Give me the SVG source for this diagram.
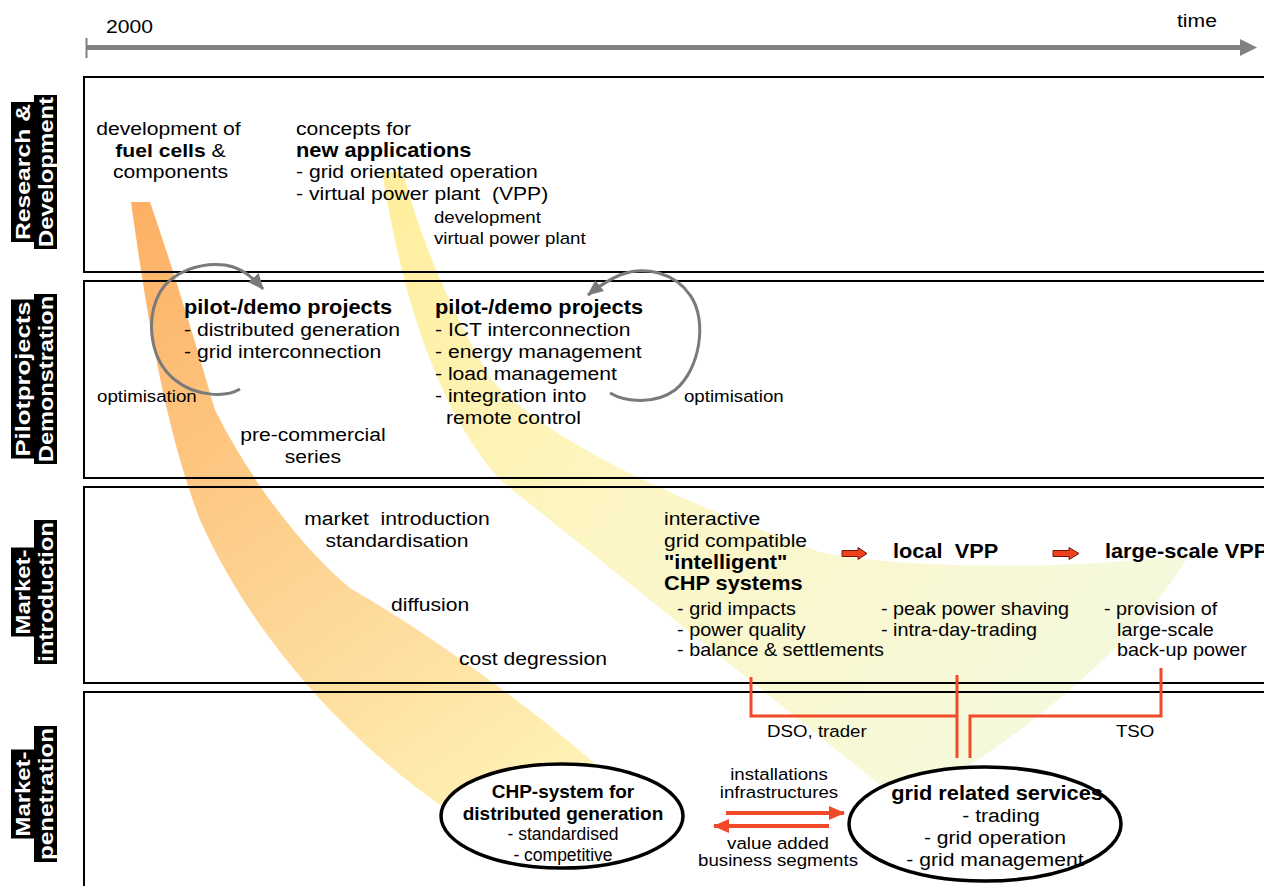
<svg xmlns="http://www.w3.org/2000/svg" width="1264" height="886" viewBox="0 0 1264 886">
<defs>
<style>
.t{font-family:"Liberation Sans",Arial,sans-serif;font-size:19.2px;fill:#000}
.t2{font-family:"Liberation Sans",Arial,sans-serif;font-size:18px;fill:#000}
.b{font-family:"Liberation Sans",Arial,sans-serif;font-size:19.8px;font-weight:bold;fill:#000}
.s{font-family:"Liberation Sans",Arial,sans-serif;font-size:17px;fill:#000}
.cb{font-family:"Liberation Sans",Arial,sans-serif;font-size:19px;font-weight:bold;fill:#000}
.cr{font-family:"Liberation Sans",Arial,sans-serif;font-size:17.5px;fill:#000}
.m{text-anchor:middle}
.lab{font-family:"Liberation Sans",Arial,sans-serif;font-size:20px;font-weight:bold;fill:#fff;text-anchor:middle}
.lane{fill:none;stroke:#000;stroke-width:2}
.loop{fill:none;stroke:#7a7a7a;stroke-width:3}
.red{fill:none;stroke:#f24a28;stroke-width:3}
.redA{fill:none;stroke:#f24a28;stroke-width:4}
.blk{fill:#f0401e;stroke:#6e1808;stroke-width:1}
.ell{fill:#fff;stroke:#000;stroke-width:3.5}
</style>
<linearGradient id="gOr" gradientUnits="userSpaceOnUse" x1="140" y1="200" x2="560" y2="780">
<stop offset="0" stop-color="#fdb064"/>
<stop offset="0.5" stop-color="#fdd08e"/>
<stop offset="1" stop-color="#fff2b6"/>
</linearGradient>
<linearGradient id="gYe" gradientUnits="userSpaceOnUse" x1="390" y1="170" x2="1050" y2="700">
<stop offset="0" stop-color="#ffee9c"/>
<stop offset="0.45" stop-color="#fdf6c4"/>
<stop offset="1" stop-color="#f5f9dc"/>
</linearGradient>
<marker id="gh" markerUnits="userSpaceOnUse" viewBox="0 0 16 14" markerWidth="16" markerHeight="14" refX="15" refY="7" orient="auto">
<path d="M0,0 L16,7 L0,14 z" fill="#7a7a7a"/>
</marker>
<marker id="rh" markerUnits="userSpaceOnUse" viewBox="0 0 16 14" markerWidth="16" markerHeight="14" refX="15" refY="7" orient="auto">
<path d="M0,0 L16,7 L0,14 z" fill="#f24a28"/>
</marker>
</defs>
<rect x="0" y="0" width="1264" height="886" fill="#fff"/>

<g id="bands">
<path d="M131,202 C145,300 162,420 200,520 C240,610 320,720 440,805 L600,768 C540,715 440,640 350,588 C310,555 255,490 215,410 C195,340 170,260 150,202 Z" fill="url(#gOr)"/>
<path d="M382,172 C400,280 430,400 500,480 C600,560 750,680 880,785 L965,768 C1040,720 1140,640 1190,553 C1100,570 900,570 820,552 C690,505 550,445 492,380 C455,320 420,240 403,172 Z" fill="url(#gYe)"/>
</g>

<g id="timeline">
<line x1="86" y1="47.5" x2="1243" y2="47.5" stroke="#808080" stroke-width="5"/>
<polygon points="1240,39 1257,47.5 1240,56" fill="#808080"/>
<line x1="86.5" y1="38" x2="86.5" y2="58" stroke="#808080" stroke-width="2"/>
<g transform="scale(1.1 1)">
<text class="t" x="96.4" y="33">2000</text>
<text class="t" x="1070" y="27">time</text>
</g>
</g>

<g id="lanes">
<rect class="lane" x="84" y="77" width="1200" height="195"/>
<rect class="lane" x="84" y="281" width="1200" height="197"/>
<rect class="lane" x="84" y="487" width="1200" height="196"/>
<rect class="lane" x="84" y="692" width="1200" height="220"/>
</g>

<g id="lane-labels">
<g id="lbl-rd" transform="translate(0,172) rotate(-90)">
<rect x="-70" y="11" width="140" height="23" fill="#000"/>
<rect x="-77" y="34" width="154" height="23" fill="#000"/>
<text class="lab" x="0" y="30" textLength="136" lengthAdjust="spacingAndGlyphs">Research &amp;</text>
<text class="lab" x="0" y="53" textLength="150" lengthAdjust="spacingAndGlyphs">Development</text>
</g>
<g id="lbl-pilot" transform="translate(0,379) rotate(-90)">
<rect x="-79.5" y="11" width="159" height="23" fill="#000"/>
<rect x="-85" y="34" width="170" height="23" fill="#000"/>
<text class="lab" x="0" y="30" textLength="155" lengthAdjust="spacingAndGlyphs">Pilotprojects</text>
<text class="lab" x="0" y="53" textLength="166" lengthAdjust="spacingAndGlyphs">Demonstration</text>
</g>
<g id="lbl-intro" transform="translate(0,592) rotate(-90)">
<rect x="-44.5" y="11" width="89" height="23" fill="#000"/>
<rect x="-72" y="34" width="144" height="23" fill="#000"/>
<text class="lab" x="0" y="30" textLength="85" lengthAdjust="spacingAndGlyphs">Market-</text>
<text class="lab" x="0" y="53" textLength="140" lengthAdjust="spacingAndGlyphs">introduction</text>
</g>
<g id="lbl-pen" transform="translate(0,794) rotate(-90)">
<rect x="-44.5" y="11" width="89" height="23" fill="#000"/>
<rect x="-68" y="34" width="136" height="23" fill="#000"/>
<text class="lab" x="0" y="30" textLength="85" lengthAdjust="spacingAndGlyphs">Market-</text>
<text class="lab" x="0" y="53" textLength="132" lengthAdjust="spacingAndGlyphs">penetration</text>
</g>
</g>

<g id="connectors">
<path class="loop" d="M240,389 C225,398 195,396 175,380 C150,360 145,320 160,292 C172,272 200,262 225,265 C240,267 252,276 263,289" marker-end="url(#gh)"/>
<path class="loop" d="M610,393 C625,402 655,405 675,390 C700,370 708,320 690,295 C675,273 645,265 620,275 C608,280 598,287 588,295" marker-end="url(#gh)"/>
<path class="red" d="M751,677 V716 H957"/>
<path class="red" d="M957,675 V758"/>
<path class="red" d="M970,758 V716 H1161 V668"/>
<line class="redA" x1="726" y1="813" x2="844" y2="813" marker-end="url(#rh)"/>
<line class="redA" x1="829" y1="826" x2="714" y2="826" marker-end="url(#rh)"/>
<polygon class="blk" points="842,550.5 858,550.5 858,547.5 867,553.5 858,559.5 858,556.5 842,556.5"/>
<polygon class="blk" points="1053,550.5 1069,550.5 1069,547.5 1079,553.5 1069,559.5 1069,556.5 1053,556.5"/>
</g>

<g id="n-rd-fuel"><g transform="scale(1.1 1)">
<text class="t m" x="153.2" y="135">development of</text>
<text class="t m" x="155" y="157"><tspan font-weight="bold">fuel cells</tspan> &amp;</text>
<text class="t m" x="155" y="178">components</text>
</g></g>

<g id="n-rd-concepts"><g transform="scale(1.1 1)">
<text class="t" x="269.1" y="135">concepts for</text>
<text class="b" x="269.1" y="157">new applications</text>
<text class="t" x="269.1" y="178">- grid orientated operation</text>
<text class="t" x="269.1" y="200">- virtual power plant&#160; (VPP)</text>
</g></g>

<g id="n-rd-vppdev"><g transform="scale(1.1 1)">
<text class="s" x="394.5" y="223">development</text>
<text class="s" x="394.5" y="244">virtual power plant</text>
</g></g>

<g id="n-pilot1"><g transform="scale(1.1 1)">
<text class="b" x="167.3" y="314">pilot-/demo projects</text>
<text class="t" x="167.3" y="336">- distributed generation</text>
<text class="t" x="167.3" y="358">- grid interconnection</text>
</g></g>

<g id="n-opt1"><g transform="scale(1.1 1)">
<text class="s" x="88.2" y="402">optimisation</text>
</g></g>

<g id="n-precomm"><g transform="scale(1.1 1)">
<text class="t m" x="284.5" y="441">pre-commercial</text>
<text class="t m" x="284.5" y="463">series</text>
</g></g>

<g id="n-pilot2"><g transform="scale(1.1 1)">
<text class="b" x="395.5" y="314">pilot-/demo projects</text>
<text class="t" x="395.5" y="336">- ICT interconnection</text>
<text class="t" x="395.5" y="358">- energy management</text>
<text class="t" x="395.5" y="380">- load management</text>
<text class="t" x="395.5" y="402">- integration into</text>
<text class="t" x="405.5" y="424">remote control</text>
</g></g>

<g id="n-opt2"><g transform="scale(1.1 1)">
<text class="s" x="621.8" y="402">optimisation</text>
</g></g>

<g id="n-market-intro"><g transform="scale(1.1 1)">
<text class="t m" x="360.9" y="525">market&#160; introduction</text>
<text class="t m" x="360.9" y="547">standardisation</text>
</g></g>

<g id="n-diffusion"><g transform="scale(1.1 1)">
<text class="t" x="355.5" y="611">diffusion</text>
</g></g>

<g id="n-cost"><g transform="scale(1.1 1)">
<text class="t" x="417.3" y="665">cost degression</text>
</g></g>

<g id="n-intelligent"><g transform="scale(1.1 1)">
<text class="t" x="603.6" y="525">interactive</text>
<text class="t" x="603.6" y="547">grid compatible</text>
<text class="b" x="603.6" y="569">"intelligent"</text>
<text class="b" x="603.6" y="590">CHP systems</text>
<text class="t2" x="615.5" y="615">- grid impacts</text>
<text class="t2" x="615.5" y="636">- power quality</text>
<text class="t2" x="615.5" y="656">- balance &amp; settlements</text>
</g></g>

<g id="n-local-vpp"><g transform="scale(1.1 1)">
<text class="b" x="811.8" y="558">local&#160; VPP</text>
<text class="t2" x="800.9" y="615">- peak power shaving</text>
<text class="t2" x="800.9" y="636">- intra-day-trading</text>
</g></g>

<g id="n-large-vpp"><g transform="scale(1.1 1)">
<text class="b" x="1004.5" y="558">large-scale VPP</text>
<text class="t2" x="1003.6" y="615">- provision of</text>
<text class="t2" x="1015.5" y="636">large-scale</text>
<text class="t2" x="1015.5" y="656">back-up power</text>
</g></g>

<g id="n-dso"><g transform="scale(1.1 1)">
<text class="s" x="697.3" y="737">DSO, trader</text>
</g></g>

<g id="n-tso"><g transform="scale(1.1 1)">
<text class="s" x="1014.5" y="737">TSO</text>
</g></g>

<g id="n-flow-labels"><g transform="scale(1.1 1)">
<text class="s m" x="708.2" y="780">installations</text>
<text class="s m" x="708.2" y="798">infrastructures</text>
<text class="s m" x="707.3" y="849">value added</text>
<text class="s m" x="707.3" y="866">business segments</text>
</g></g>

<g id="n-chp">
<ellipse class="ell" cx="562" cy="816" rx="121" ry="52"/>
<text class="cb m" x="563" y="798">CHP-system for</text>
<text class="cb m" x="563" y="820">distributed generation</text>
<text class="cr m" x="563" y="840">- standardised</text>
<text class="cr m" x="563" y="861">- competitive</text>
</g>

<g id="n-grid">
<ellipse class="ell" cx="985" cy="824" rx="136" ry="57"/>
<g transform="scale(1.1 1)">
<text class="b m" x="906.4" y="800">grid related services</text>
<text class="t m" x="910" y="822">- trading</text>
<text class="t m" x="904.5" y="844">- grid operation</text>
<text class="t m" x="904.5" y="866">- grid management</text>
</g>
</g>
</svg>
